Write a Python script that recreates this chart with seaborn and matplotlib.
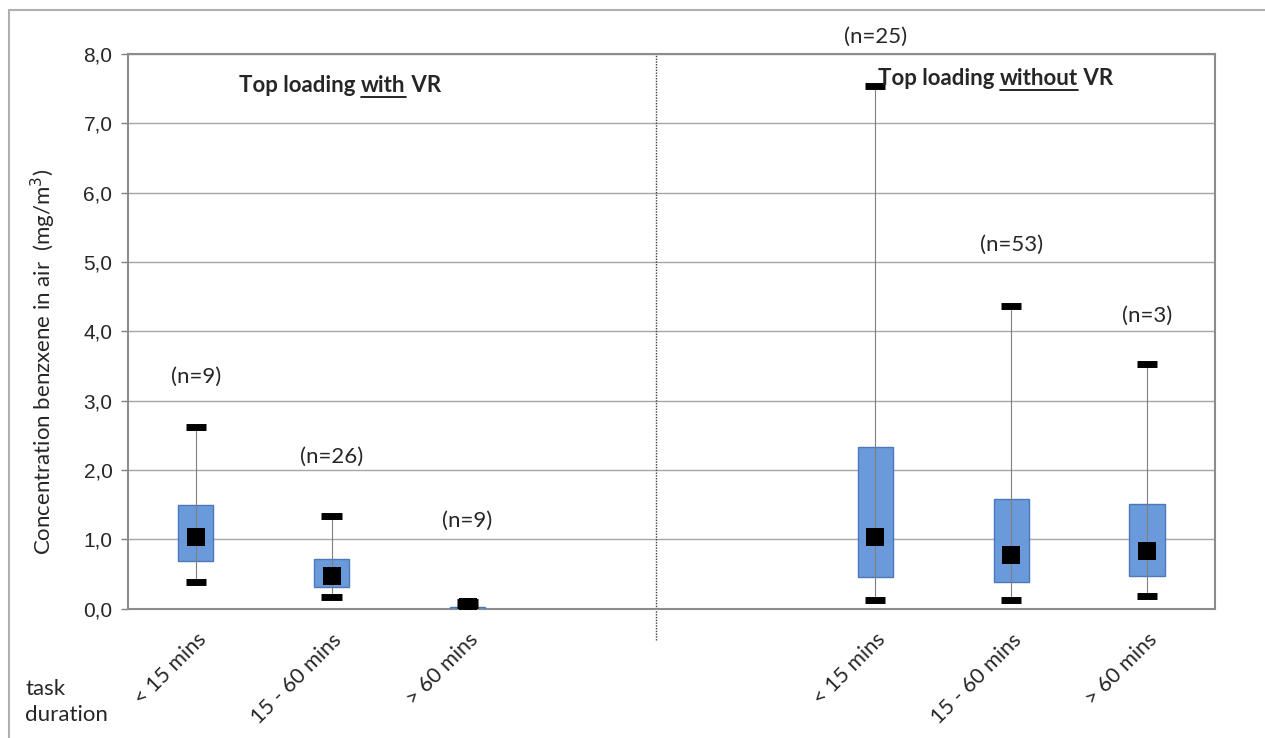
import matplotlib
matplotlib.use("Agg")
import matplotlib.pyplot as plt
import matplotlib.transforms as mtrans
import seaborn as sns
import pandas as pd
from matplotlib.patches import Rectangle
from matplotlib.lines import Line2D

# data (mg/m3)
labels = ["< 15 mins", "15 - 60 mins", "> 60 mins", "", "", "< 15 mins", "15 - 60 mins", "> 60 mins"]
slots = [0, 1, 2, 5, 6, 7]
minimum = [0.39, 0.17, 0.01, 0.13, 0.13, 0.19]
q1 = [0.69, 0.31, 0.00, 0.46, 0.38, 0.47]
middle = [1.03, 0.48, 0.03, 1.03, 0.78, 0.84]
q3 = [1.50, 0.72, 0.03, 2.33, 1.59, 1.51]
maximum = [2.62, 1.34, 0.10, 7.54, 4.37, 3.53]
n_text = ["(n=9)", "(n=26)", "(n=9)", "(n=25)", "(n=53)", "(n=3)"]
n_y = [3.34, 2.19, 1.27, 8.24, 5.25, 4.22]

df = pd.DataFrame({"slot": slots, "lo": minimum, "q1": q1, "mid": middle,
                   "q3": q3, "hi": maximum, "n": n_text, "ny": n_y})

sns.set_style("white")
plt.rcParams["font.family"] = ["Liberation Sans", "DejaVu Sans"]
note_font = ["Lato", "DejaVu Sans"]

fig = plt.figure(figsize=(12.65, 7.38), dpi=100)
ax = fig.add_axes([0.101, 0.175, 0.8595, 0.752])

# boxes q1..q3
ax.bar(df["slot"], df["q3"] - df["q1"], bottom=df["q1"], width=0.26,
       color="#6a9ad9", edgecolor="#4a78b8", linewidth=1, zorder=3)
# whiskers
ax.vlines(df["slot"], df["lo"], df["hi"], color="#7f7f7f", linewidth=0.8, zorder=4)
# caps
ax.hlines(df["lo"], df["slot"] - 0.075, df["slot"] + 0.075, color="black", linewidth=5, zorder=5)
ax.hlines(df["hi"], df["slot"] - 0.075, df["slot"] + 0.075, color="black", linewidth=5, zorder=5)
# middle marker
sns.scatterplot(data=df, x="slot", y="mid", marker="s", s=180, color="black",
                edgecolor="black", linewidth=0, zorder=6, ax=ax, legend=False)

for _, r in df.iterrows():
    ax.text(r["slot"], r["ny"], r["n"], ha="center", va="center", fontsize=16,
            family=note_font, clip_on=False)

ax.set_xlim(-0.5, 7.5)
ax.set_ylim(0, 8)
ax.set_yticks(range(0, 9))
ax.set_yticklabels([f"{v},0" for v in range(0, 9)], fontsize=15)
ax.set_xticks(range(8))
ax.set_xticklabels(labels, rotation=45, ha="right", rotation_mode="anchor",
                   fontsize=15.5, family=note_font)
shift = mtrans.ScaledTranslation(-14 / 100, 0, fig.dpi_scale_trans)
for lab in ax.get_xticklabels():
    lab.set_transform(lab.get_transform() + shift)
ax.tick_params(axis="x", length=0, pad=15)
ax.tick_params(axis="y", length=5, width=1, color="#808080", left=True, pad=6)
ax.set_xlabel("")
ax.set_ylabel("Concentration benzxene in air  (mg/m$^3$)", fontsize=16, family=note_font)
ax.yaxis.set_label_coords(-70 / 1087, 0.445)
ax.grid(axis="y", color="#a6a6a6", linewidth=1)
ax.set_axisbelow(True)
for s in ax.spines.values():
    s.set_color("#8c8c8c")
    s.set_linewidth(1.5)

# dotted separator
ax.plot([3.39, 3.39], [-0.45, 8], color="#404040", linestyle=(0, (1, 1)), linewidth=1,
        clip_on=False, zorder=2)


def underlined_title(x, y, parts):
    # parts: (text, underline?) drawn left to right in pixel space
    renderer = fig.canvas.get_renderer()
    px, py = ax.transData.transform((x, y))
    for txt, under in parts:
        t = fig.text(px / fig.bbox.width, py / fig.bbox.height, txt, ha="left", va="center",
                     fontsize=16, fontweight="bold", family=note_font)
        bb = t.get_window_extent(renderer)
        if under:
            uy = (bb.y0 - 1) / fig.bbox.height
            fig.lines.append(Line2D([bb.x0 / fig.bbox.width, bb.x1 / fig.bbox.width], [uy, uy],
                                    transform=fig.transFigure, color="black", linewidth=1.2))
        px = bb.x1


underlined_title(0.32, 7.55, [("Top loading ", False), ("with", True), (" VR", False)])
underlined_title(5.02, 7.65, [("Top loading ", False), ("without", True), (" VR", False)])

fig.text(25 / 1265, 1 - 702 / 738, "task\nduration", ha="left", va="center",
         fontsize=16, family=note_font, linespacing=1.4)

# outer frame
fig.patches.append(Rectangle((9 / 1265, -0.05), 1.2, 1 - 10 / 738 + 0.05, transform=fig.transFigure,
                             fill=False, edgecolor="#b0b0b0", linewidth=1.5))

fig.savefig("out.png", dpi=100)
